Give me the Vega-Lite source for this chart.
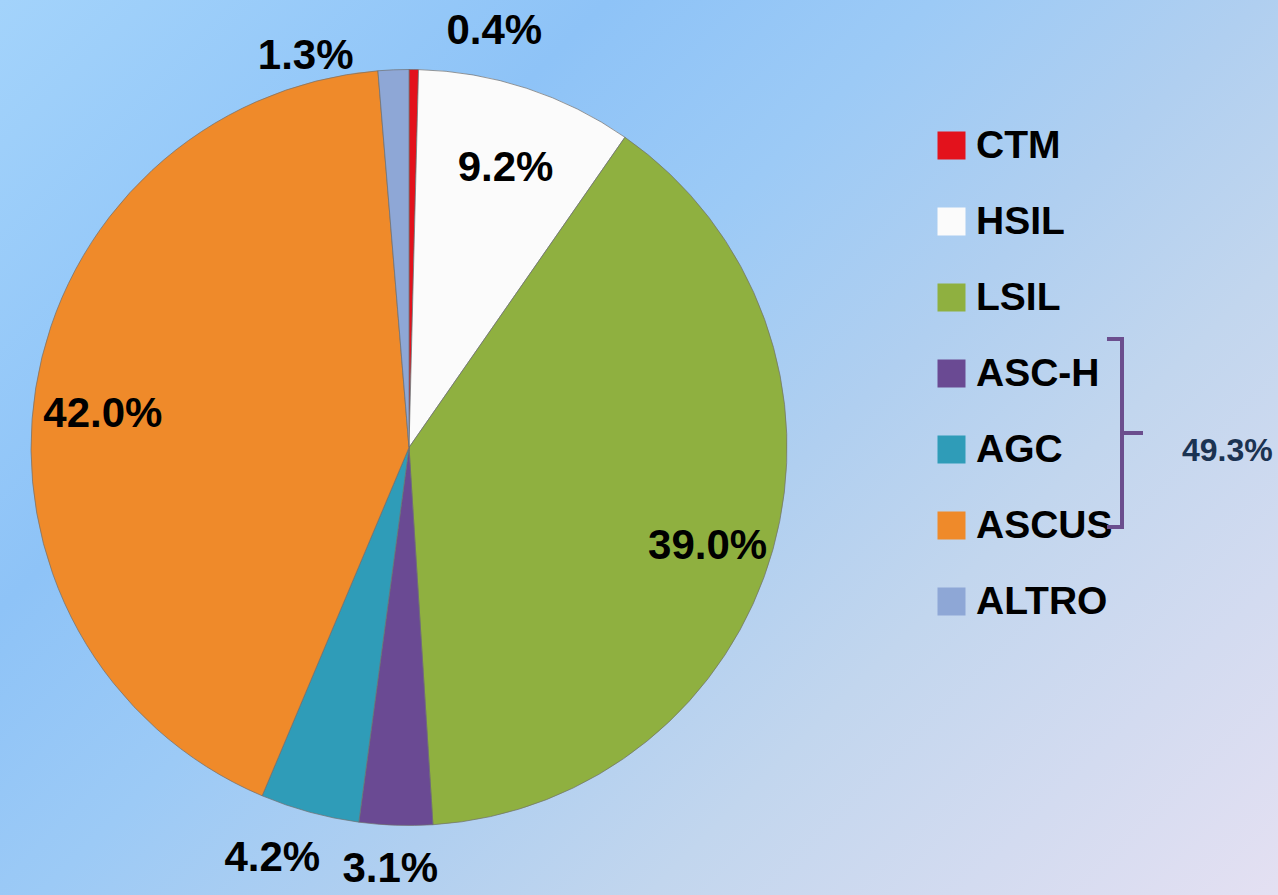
{
  "$schema": "https://vega.github.io/schema/vega-lite/v6.json",
  "padding": 0,
  "spacing": 0,
  "bounds": "flush",
  "config": {
    "view": {"stroke": null},
    "font": "Liberation Sans"
  },
  "datasets": {
    "slices": [
      {"cat": "CTM", "ord": 1, "value": 0.4, "lbl": "0.4%"},
      {"cat": "HSIL", "ord": 2, "value": 9.2, "lbl": "9.2%"},
      {"cat": "LSIL", "ord": 3, "value": 39.0, "lbl": "39.0%"},
      {"cat": "ASC-H", "ord": 4, "value": 3.1, "lbl": "3.1%"},
      {"cat": "AGC", "ord": 5, "value": 4.2, "lbl": "4.2%"},
      {"cat": "ASCUS", "ord": 6, "value": 42.0, "lbl": "42.0%"},
      {"cat": "ALTRO", "ord": 7, "value": 1.3, "lbl": "1.3%"}
    ],
    "group": [{"grp": "49.3%"}]
  },
  "hconcat": [
    {
      "width": 818,
      "height": 895,
      "view": {
        "stroke": null,
        "fill": {
          "gradient": "linear",
          "x1": 0, "y1": 0, "x2": 1.209, "y2": 1.323,
          "stops": [
            {"offset": 0, "color": "#a3d3fb"},
            {"offset": 0.28, "color": "#8ec3f7"},
            {"offset": 0.43, "color": "#9ccaf6"},
            {"offset": 0.58, "color": "#b0cff0"},
            {"offset": 0.71, "color": "#c2d6ee"},
            {"offset": 1, "color": "#e4e0f2"}
          ]
        }
      },
      "data": {"name": "slices"},
      "encoding": {
        "theta": {"field": "value", "type": "quantitative", "stack": true},
        "order": {"field": "ord", "type": "quantitative"}
      },
      "layer": [
        {
          "mark": {"type": "arc", "outerRadius": 378, "stroke": "#6f6f6f", "strokeWidth": 1, "strokeOpacity": 0.7},
          "encoding": {
            "color": {
              "field": "cat",
              "type": "nominal",
              "scale": {
                "domain": ["CTM", "HSIL", "LSIL", "ASC-H", "AGC", "ASCUS", "ALTRO"],
                "range": ["#e3121c", "#fbfbfb", "#8fb040", "#6a4a93", "#2f9cb8", "#ef8a2a", "#8ea7d6"]
              },
              "legend": {
                "orient": "none",
                "legendX": 932,
                "legendY": 126,
                "title": null,
                "padding": 0,
                "symbolType": "square",
                "symbolSize": 784,
                "symbolStrokeWidth": 0,
                "symbolOpacity": 1,
                "labelFontSize": 39,
                "labelFontWeight": "bold",
                "labelFont": "Liberation Sans",
                "labelColor": "#000000",
                "labelOffset": 5,
                "rowPadding": 36,
                "labelLimit": 300
              }
            }
          }
        },
        {
          "mark": {"type": "text", "clip": true, "radius": 310, "dy": 15, "fontSize": 42, "fontWeight": "bold", "font": "Liberation Sans", "color": "#000000"},
          "encoding": {
            "text": {"condition": {"test": "indexof(['HSIL','LSIL','ASCUS'], datum.cat) >= 0", "field": "lbl"}, "value": ""}
          }
        },
        {
          "mark": {"type": "text", "clip": true, "radius": 422, "dx": -4, "fontSize": 42, "fontWeight": "bold", "font": "Liberation Sans", "color": "#000000"},
          "encoding": {
            "text": {"condition": {"test": "datum.cat == 'ASC-H'", "field": "lbl"}, "value": ""}
          }
        },
        {
          "mark": {"type": "text", "clip": true, "radius": 425, "dx": -25, "fontSize": 42, "fontWeight": "bold", "font": "Liberation Sans", "color": "#000000"},
          "encoding": {
            "text": {"condition": {"test": "datum.cat == 'AGC'", "field": "lbl"}, "value": ""}
          }
        },
        {
          "mark": {"type": "text", "clip": true, "radius": 425, "dx": 32, "dy": 8, "align": "left", "fontSize": 42, "fontWeight": "bold", "font": "Liberation Sans", "color": "#000000"},
          "encoding": {
            "text": {"condition": {"test": "datum.cat == 'CTM'", "field": "lbl"}, "value": ""}
          }
        },
        {
          "mark": {"type": "text", "clip": true, "radius": 425, "dx": -38, "dy": 33, "align": "right", "fontSize": 42, "fontWeight": "bold", "font": "Liberation Sans", "color": "#000000"},
          "encoding": {
            "text": {"condition": {"test": "datum.cat == 'ALTRO'", "field": "lbl"}, "value": ""}
          }
        }
      ]
    },
    {
      "width": 460,
      "height": 895,
      "view": {
        "stroke": null,
        "fill": {
          "gradient": "linear",
          "x1": -1.778, "y1": 0, "x2": -0.791, "y2": 1.920,
          "stops": [
            {"offset": 0, "color": "#a3d3fb"},
            {"offset": 0.28, "color": "#8ec3f7"},
            {"offset": 0.43, "color": "#9ccaf6"},
            {"offset": 0.58, "color": "#b0cff0"},
            {"offset": 0.71, "color": "#c2d6ee"},
            {"offset": 1, "color": "#e4e0f2"}
          ]
        }
      },
      "data": {"name": "group"},
      "mark": {"type": "point", "size": 0, "opacity": 0},
      "encoding": {
        "shape": {
          "field": "grp",
          "type": "nominal",
          "scale": {"range": ["M -0.134 -1 L 0 -1 L 0 0.679 L -0.134 0.679 M 0 -0.16 L 0.1875 -0.16"]},
          "legend": {
            "orient": "none",
            "legendX": 1008,
            "legendY": 337,
            "title": null,
            "padding": 0,
            "symbolSize": 50176,
            "symbolStrokeColor": "#6b4e8e",
            "symbolStrokeWidth": 4,
            "symbolFillColor": "transparent",
            "symbolOpacity": 1,
            "labelFontSize": 32,
            "labelFontWeight": "bold",
            "labelFont": "Liberation Sans",
            "labelColor": "#1b3352",
            "labelOffset": -54,
            "labelLimit": 300
          }
        }
      }
    }
  ]
}
